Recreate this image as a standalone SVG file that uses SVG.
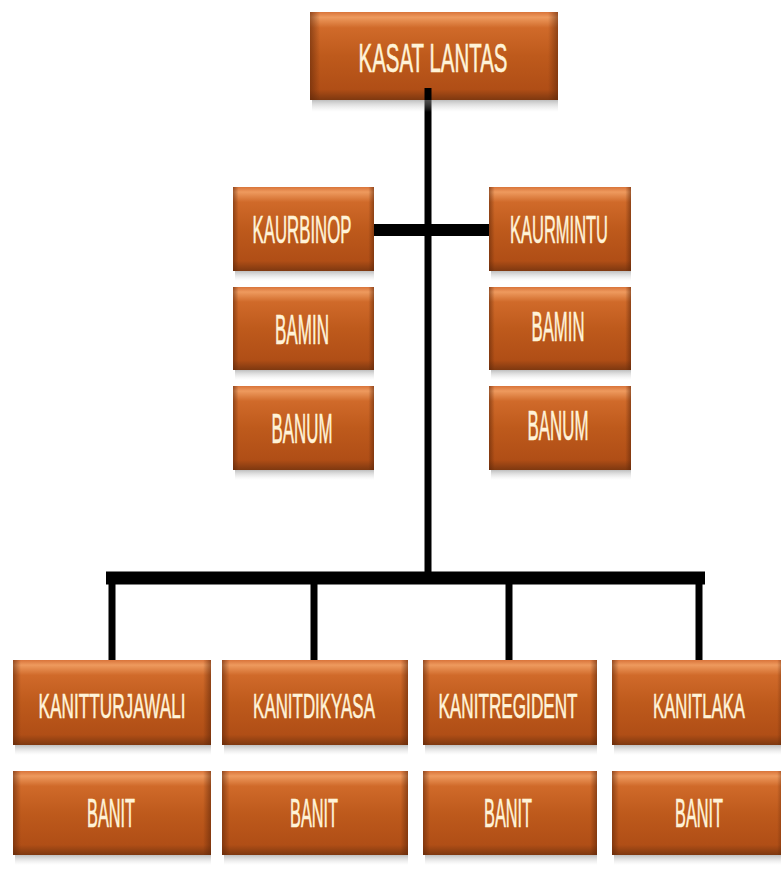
<svg xmlns="http://www.w3.org/2000/svg" width="781" height="870" viewBox="0 0 781 870">
<defs>
<linearGradient id="gv" x1="0" y1="0" x2="0" y2="1">
<stop offset="0" stop-color="#D9743A"/>
<stop offset="0.06" stop-color="#EE9A5E"/>
<stop offset="0.18" stop-color="#D06A2A"/>
<stop offset="0.5" stop-color="#BE5A1C"/>
<stop offset="0.88" stop-color="#B04E16"/>
<stop offset="1" stop-color="#7E3810"/>
</linearGradient>
<linearGradient id="gh" x1="0" y1="0" x2="1" y2="0">
<stop offset="0" stop-color="#5A2408" stop-opacity="0.55"/>
<stop offset="0.04" stop-color="#5A2408" stop-opacity="0"/>
<stop offset="0.96" stop-color="#5A2408" stop-opacity="0"/>
<stop offset="1" stop-color="#5A2408" stop-opacity="0.55"/>
</linearGradient>
<linearGradient id="sh" x1="0" y1="0" x2="0" y2="1">
<stop offset="0" stop-color="#8A8A8A" stop-opacity="0.55"/>
<stop offset="1" stop-color="#CCCCCC" stop-opacity="0"/>
</linearGradient>
<style>
.t{font-family:"Liberation Sans Narrow","Liberation Sans",Arial,sans-serif;fill:#FFF3D8;stroke:#FFF3D8;stroke-width:0.6;text-anchor:middle;}
.ln{stroke:#000;fill:none;}
</style>
</defs>
<rect width="781" height="870" fill="#fff"/>

<g id="connectors">
<line class="ln" x1="428" y1="88" x2="428" y2="578" stroke-width="7"/>
<line class="ln" x1="374" y1="230" x2="489" y2="230" stroke-width="12"/>
<path class="ln" d="M112 660 V578 H699 V660" stroke-width="7"/>
<line class="ln" x1="106" y1="578" x2="705" y2="578" stroke-width="13"/>
<line class="ln" x1="314" y1="578" x2="314" y2="660" stroke-width="7"/>
<line class="ln" x1="509" y1="578" x2="509" y2="660" stroke-width="7"/>
</g>

<g id="kasat">
<rect x="312" y="100" width="246" height="12" fill="url(#sh)"/>
<rect x="310" y="12" width="248" height="88" fill="url(#gv)"/>
<rect x="310" y="12" width="248" height="88" fill="url(#gh)"/>
<line class="ln" x1="428" y1="88" x2="428" y2="100" stroke-width="7"/>
<text class="t" transform="translate(433 72) scale(0.61 1)" font-size="40" textLength="244" lengthAdjust="spacingAndGlyphs">KASAT LANTAS</text>
</g>

<g id="kaurbinop">
<rect x="235" y="271" width="139" height="10" fill="url(#sh)"/>
<rect x="233" y="187" width="141" height="84" fill="url(#gv)"/>
<rect x="233" y="187" width="141" height="84" fill="url(#gh)"/>
<text class="t" transform="translate(302 243) scale(0.52 1)" font-size="39" textLength="190" lengthAdjust="spacingAndGlyphs">KAURBINOP</text>
</g>
<g id="kaurmintu">
<rect x="491" y="271" width="140" height="10" fill="url(#sh)"/>
<rect x="489" y="187" width="142" height="84" fill="url(#gv)"/>
<rect x="489" y="187" width="142" height="84" fill="url(#gh)"/>
<text class="t" transform="translate(559 243) scale(0.53 1)" font-size="39" textLength="185" lengthAdjust="spacingAndGlyphs">KAURMINTU</text>
</g>

<g id="bamin-left">
<rect x="235" y="370" width="139" height="10" fill="url(#sh)"/>
<rect x="233" y="287" width="141" height="83" fill="url(#gv)"/>
<rect x="233" y="287" width="141" height="83" fill="url(#gh)"/>
<text class="t" transform="translate(302 344) scale(0.5 1)" font-size="42" textLength="108" lengthAdjust="spacingAndGlyphs">BAMIN</text>
</g>
<g id="bamin-right">
<rect x="491" y="370" width="140" height="10" fill="url(#sh)"/>
<rect x="489" y="287" width="142" height="83" fill="url(#gv)"/>
<rect x="489" y="287" width="142" height="83" fill="url(#gh)"/>
<text class="t" transform="translate(558 341) scale(0.5 1)" font-size="42" textLength="106" lengthAdjust="spacingAndGlyphs">BAMIN</text>
</g>
<g id="banum-left">
<rect x="235" y="470" width="139" height="10" fill="url(#sh)"/>
<rect x="233" y="386" width="141" height="84" fill="url(#gv)"/>
<rect x="233" y="386" width="141" height="84" fill="url(#gh)"/>
<text class="t" transform="translate(302 443) scale(0.5 1)" font-size="42" textLength="122" lengthAdjust="spacingAndGlyphs">BANUM</text>
</g>
<g id="banum-right">
<rect x="491" y="470" width="140" height="10" fill="url(#sh)"/>
<rect x="489" y="386" width="142" height="84" fill="url(#gv)"/>
<rect x="489" y="386" width="142" height="84" fill="url(#gh)"/>
<text class="t" transform="translate(558 440) scale(0.5 1)" font-size="42" textLength="122" lengthAdjust="spacingAndGlyphs">BANUM</text>
</g>

<g id="kanitturjawali">
<rect x="15" y="745" width="196" height="10" fill="url(#sh)"/>
<rect x="13" y="660" width="198" height="85" fill="url(#gv)"/>
<rect x="13" y="660" width="198" height="85" fill="url(#gh)"/>
<text class="t" transform="translate(112 718) scale(0.6 1)" font-size="36" textLength="245" lengthAdjust="spacingAndGlyphs">KANITTURJAWALI</text>
</g>
<g id="kanitdikyasa">
<rect x="224" y="745" width="184" height="10" fill="url(#sh)"/>
<rect x="222" y="660" width="186" height="85" fill="url(#gv)"/>
<rect x="222" y="660" width="186" height="85" fill="url(#gh)"/>
<text class="t" transform="translate(314 718) scale(0.6 1)" font-size="36" textLength="203" lengthAdjust="spacingAndGlyphs">KANITDIKYASA</text>
</g>
<g id="kanitregident">
<rect x="425" y="745" width="172" height="10" fill="url(#sh)"/>
<rect x="423" y="660" width="174" height="85" fill="url(#gv)"/>
<rect x="423" y="660" width="174" height="85" fill="url(#gh)"/>
<text class="t" transform="translate(508 718) scale(0.6 1)" font-size="36" textLength="232" lengthAdjust="spacingAndGlyphs">KANITREGIDENT</text>
</g>
<g id="kanitlaka">
<rect x="614" y="745" width="167" height="10" fill="url(#sh)"/>
<rect x="612" y="660" width="172" height="85" fill="url(#gv)"/>
<rect x="612" y="660" width="172" height="85" fill="url(#gh)"/>
<text class="t" transform="translate(699 718) scale(0.6 1)" font-size="36" textLength="153" lengthAdjust="spacingAndGlyphs">KANITLAKA</text>
</g>

<g id="banit-1">
<rect x="15" y="855" width="196" height="10" fill="url(#sh)"/>
<rect x="13" y="771" width="198" height="84" fill="url(#gv)"/>
<rect x="13" y="771" width="198" height="84" fill="url(#gh)"/>
<text class="t" transform="translate(111 827) scale(0.5 1)" font-size="40" textLength="96" lengthAdjust="spacingAndGlyphs">BANIT</text>
</g>
<g id="banit-2">
<rect x="224" y="855" width="184" height="10" fill="url(#sh)"/>
<rect x="222" y="771" width="186" height="84" fill="url(#gv)"/>
<rect x="222" y="771" width="186" height="84" fill="url(#gh)"/>
<text class="t" transform="translate(314 827) scale(0.5 1)" font-size="40" textLength="96" lengthAdjust="spacingAndGlyphs">BANIT</text>
</g>
<g id="banit-3">
<rect x="425" y="855" width="172" height="10" fill="url(#sh)"/>
<rect x="423" y="771" width="174" height="84" fill="url(#gv)"/>
<rect x="423" y="771" width="174" height="84" fill="url(#gh)"/>
<text class="t" transform="translate(508 827) scale(0.5 1)" font-size="40" textLength="96" lengthAdjust="spacingAndGlyphs">BANIT</text>
</g>
<g id="banit-4">
<rect x="614" y="855" width="167" height="10" fill="url(#sh)"/>
<rect x="612" y="771" width="172" height="84" fill="url(#gv)"/>
<rect x="612" y="771" width="172" height="84" fill="url(#gh)"/>
<text class="t" transform="translate(699 827) scale(0.5 1)" font-size="40" textLength="96" lengthAdjust="spacingAndGlyphs">BANIT</text>
</g>
</svg>
